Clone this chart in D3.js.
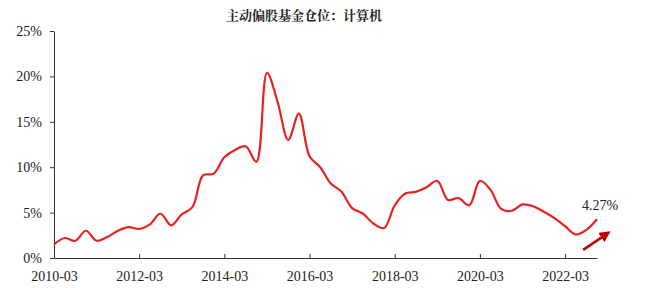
<!DOCTYPE html>
<html>
<head>
<meta charset="utf-8">
<title>主动偏股基金仓位：计算机</title>
<script src="https://d3js.org/d3.v7.min.js"></script>
<style>
    body { margin: 0; background: #fff; }
    svg text { font-family: "Liberation Serif", "Times New Roman", serif; fill: #222; }
    .title { font-family: "Noto Serif CJK SC", "Noto Sans CJK SC", sans-serif !important; font-weight: bold; }
</style>
</head>
<body>
<div id="chart"></div>
<script>
    // quarterly labels, 2010-03 .. 2022-12
    const years = [2010, 2011, 2012, 2013, 2014, 2015, 2016, 2017, 2018, 2019, 2020, 2021, 2022];
    const months = ["03", "06", "09", "12"];
    const quarters = [];
    years.forEach(y => months.forEach(m => quarters.push(y + "-" + m)));

    // position of active equity funds in computer sector (%)
    const weights = [
        1.5, 2.2, 1.9, 3.0, 1.9, 2.3, 3.0, 3.4,
        3.2, 3.7, 4.9, 3.6, 4.8, 5.6, 9.1, 9.3,
        11.1, 11.9, 12.3, 10.6, 20.4, 17.2, 13.0, 15.9,
        11.2, 10.0, 8.2, 7.3, 5.5, 4.9, 3.8, 3.3,
        5.8, 7.1, 7.3, 7.8, 8.5, 6.4, 6.6, 5.8,
        8.5, 7.5, 5.4, 5.2, 5.9, 5.7, 5.1, 4.4,
        3.5, 2.6, 3.1, 4.27
    ];

    const yTicks = [0, 5, 10, 15, 20, 25];
    const xTickLabels = ["2010-03", "2012-03", "2014-03", "2016-03", "2018-03", "2020-03", "2022-03"];

    const width = 647, height = 288;
    const margin = {top: 31, right: 50, bottom: 30, left: 54};

    const svg = d3.select("#chart").append("svg")
        .attr("width", width)
        .attr("height", height);

    const x = d3.scaleLinear()
        .domain([0, quarters.length - 1])
        .range([margin.left, width - margin.right]);

    const y = d3.scaleLinear()
        .domain([0, 25])
        .range([height - margin.bottom, margin.top]);

    // title
    svg.append("text")
        .attr("class", "title")
        .attr("x", 304)
        .attr("y", 20)
        .attr("text-anchor", "middle")
        .style("font-size", "13px")
        .text("主动偏股基金仓位：计算机");

    // y axis
    const yAxis = svg.append("g")
        .attr("transform", "translate(" + margin.left + ",0)")
        .call(d3.axisLeft(y)
            .tickValues(yTicks)
            .tickSizeInner(4)
            .tickSizeOuter(0)
            .tickPadding(8)
            .tickFormat(d => d + "%"));

    // x axis, ticks point up
    const xAxis = svg.append("g")
        .attr("transform", "translate(0," + y(0) + ")")
        .call(d3.axisBottom(x)
            .tickValues(xTickLabels.map(l => quarters.indexOf(l)))
            .tickSizeInner(-4)
            .tickSizeOuter(0)
            .tickPadding(13)
            .tickFormat(i => quarters[i]));

    [xAxis, yAxis].forEach(a => {
        a.selectAll("path, line").attr("stroke", "#333").attr("stroke-width", 1);
        a.selectAll("text").style("font-size", "14px").attr("fill", "#222");
    });

    // the line
    const line = d3.line()
        .x((d, i) => x(i))
        .y(d => y(d))
        .curve(d3.curveCatmullRom.alpha(0.5));

    svg.append("path")
        .datum(weights)
        .attr("fill", "none")
        .attr("stroke", "#e8231f")
        .attr("stroke-width", 2.2)
        .attr("d", line);

    // last value label
    const last = weights.length - 1;
    svg.append("text")
        .attr("x", x(last + 0.3))
        .attr("y", y(weights[last] + 1.0))
        .attr("text-anchor", "middle")
        .style("font-size", "14px")
        .text(weights[last].toFixed(2) + "%");

    // arrow
    svg.append("defs").append("marker")
        .attr("id", "head")
        .attr("markerUnits", "userSpaceOnUse")
        .attr("viewBox", "0 0 10 10")
        .attr("refX", 8).attr("refY", 5)
        .attr("markerWidth", 11).attr("markerHeight", 11)
        .attr("orient", "auto")
        .append("path")
        .attr("d", "M0,0 L10,5 L0,10 Z")
        .attr("fill", "#c00000");

    svg.append("line")
        .attr("x1", x(last - 1.3)).attr("y1", y(0.9))
        .attr("x2", x(last + 1.1)).attr("y2", y(2.8))
        .attr("stroke", "#c00000")
        .attr("stroke-width", 2.6)
        .attr("marker-end", "url(#head)");
</script>
</body>
</html>
